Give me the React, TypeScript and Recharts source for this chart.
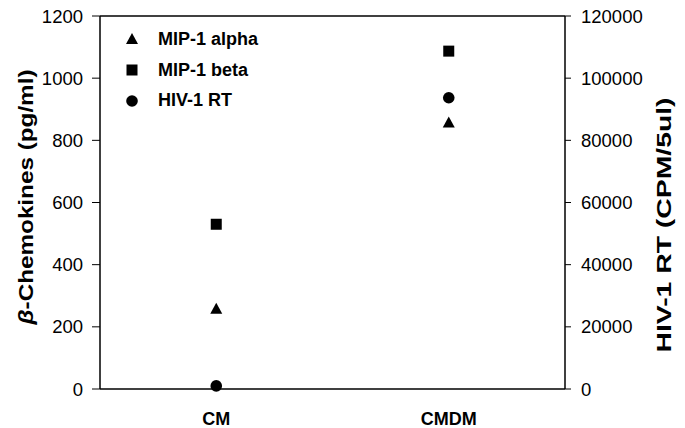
import React from "react";
import { ComposedChart, Scatter, XAxis, YAxis, ReferenceLine } from "recharts";

const categories = ["CM", "CMDM"];
const mip1Alpha = [258, 857];
const mip1Beta = [530, 1087];
const hivRt = [1000, 93700];
const leftTicks = [0, 200, 400, 600, 800, 1000, 1200];
const rightTicks = [0, 20000, 40000, 60000, 80000, 100000, 120000];

const series = [
  { key: "alpha", name: "MIP-1 alpha", symbol: "triangle" },
  { key: "beta", name: "MIP-1 beta", symbol: "square" },
  { key: "rt", name: "HIV-1 RT", symbol: "circle" },
];

const data = categories.map((cat, i) => ({
  cat,
  alpha: mip1Alpha[i],
  beta: mip1Beta[i],
  rt: hivRt[i],
}));

const FONT = '"Liberation Sans", Arial, Helvetica, sans-serif';

function Marker({ symbol, cx, cy }: { symbol: string; cx: number; cy: number }) {
  if (symbol === "triangle") {
    return <polygon points={`${cx},${cy - 6} ${cx + 6},${cy + 5} ${cx - 6},${cy + 5}`} fill="#000" />;
  }
  if (symbol === "square") {
    return <rect x={cx - 5.5} y={cy - 5.5} width={11} height={11} fill="#000" />;
  }
  return <circle cx={cx} cy={cy} r={5.8} fill="#000" />;
}

const shapeFor = (symbol: string) => (props: any) =>
  <Marker symbol={symbol} cx={props.cx} cy={props.cy} />;

const tickStyle = { fontSize: 18.5, fill: "#000", fontFamily: FONT };

export default function App() {
  return (
    <div style={{ position: "absolute", left: 0, top: 0, width: 685, height: 428, background: "#fff", fontFamily: FONT }}>
      <ComposedChart width={685} height={428} data={data} margin={{ top: 16, right: 0, bottom: 0, left: 0 }}>
        <XAxis
          dataKey="cat"
          scale="band"
          height={39}
          tickLine={false}
          tickSize={0}
          tickMargin={23}
          axisLine={{ stroke: "#000", strokeWidth: 1.5 }}
          tick={{ ...tickStyle, fontSize: 18, fontWeight: "bold" }}
        />
        <YAxis
          yAxisId="left"
          width={100}
          domain={[0, 1200]}
          ticks={leftTicks}
          tickSize={8}
          tickMargin={9}
          axisLine={{ stroke: "#000", strokeWidth: 1.5 }}
          tickLine={{ stroke: "#000" }}
          tick={tickStyle}
          label={{
            content: () => (
              <text
                x={26}
                y={197}
                transform="rotate(-90 26 197)"
                textAnchor="middle"
                dominantBaseline="central"
                fontFamily={FONT}
                fontWeight="bold"
                fontSize={20}
                textLength={255}
                lengthAdjust="spacingAndGlyphs"
                fill="#000"
              >
                <tspan fontStyle="italic">β</tspan>-Chemokines (pg/ml)
              </text>
            ),
          }}
        />
        <YAxis
          yAxisId="right"
          orientation="right"
          width={120}
          domain={[0, 120000]}
          ticks={rightTicks}
          tickSize={6}
          tickMargin={10}
          axisLine={{ stroke: "#000", strokeWidth: 1.5 }}
          tickLine={{ stroke: "#000" }}
          tick={{ ...tickStyle, textAnchor: "start" }}
          label={{
            content: () => (
              <text
                x={663}
                y={225}
                transform="rotate(-90 663 225)"
                textAnchor="middle"
                dominantBaseline="central"
                fontFamily={FONT}
                fontWeight="bold"
                fontSize={21}
                textLength={255}
                lengthAdjust="spacingAndGlyphs"
                fill="#000"
              >
                HIV-1 RT (CPM/5ul)
              </text>
            ),
          }}
        />
        <ReferenceLine yAxisId="left" y={1200} stroke="#000" strokeWidth={1.5} />
        <Scatter yAxisId="left" dataKey="alpha" name="MIP-1 alpha" shape={shapeFor("triangle")} isAnimationActive={false} />
        <Scatter yAxisId="left" dataKey="beta" name="MIP-1 beta" shape={shapeFor("square")} isAnimationActive={false} />
        <Scatter yAxisId="right" dataKey="rt" name="HIV-1 RT" shape={shapeFor("circle")} isAnimationActive={false} />
      </ComposedChart>
      <div style={{ position: "absolute", left: 120, top: 24 }}>
        {series.map((s) => (
          <div key={s.key} style={{ display: "flex", alignItems: "center", height: 30.7 }}>
            <svg width={24} height={16} style={{ marginRight: 14 }}>
              <Marker symbol={s.symbol} cx={12} cy={8} />
            </svg>
            <span style={{ fontSize: 18, fontWeight: "bold", color: "#000" }}>{s.name}</span>
          </div>
        ))}
      </div>
    </div>
  );
}
